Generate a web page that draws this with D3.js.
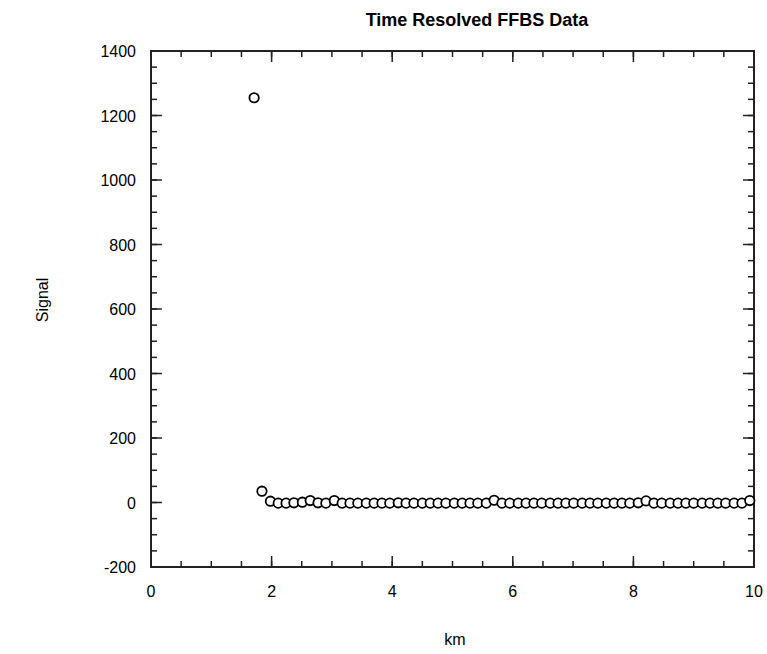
<!DOCTYPE html>
<html><head><meta charset="utf-8">
<script src="https://cdn.jsdelivr.net/npm/d3@7"></script>
<style>body{margin:0;background:#fff}svg{display:block}text{font-family:"Liberation Sans",Arial,sans-serif;fill:#000}</style>
</head><body>
<svg id="c" width="767" height="654"></svg>
<script>
const title = "Time Resolved FFBS Data";
const xLabel = "km";
const yLabel = "Signal";
const xTicks = [0, 2, 4, 6, 8, 10];
const yTicks = [-200, 0, 200, 400, 600, 800, 1000, 1200, 1400];
const kmValues = [1.71,1.84,1.98,2.11,2.24,2.37,2.51,2.64,2.77,2.90,3.04,3.17,3.30,3.43,3.57,3.70,3.83,3.96,4.10,4.23,4.36,4.50,4.63,4.76,4.89,5.03,5.16,5.29,5.42,5.56,5.69,5.82,5.95,6.09,6.22,6.35,6.48,6.62,6.75,6.88,7.01,7.15,7.28,7.41,7.55,7.68,7.81,7.94,8.08,8.21,8.34,8.47,8.61,8.74,8.87,9.00,9.14,9.27,9.40,9.53,9.67,9.80,9.93];
const signalValues = [1255,35,4,-2,-2,-1,1,6,-1,-2,6,-2,-2,-2,-2,-2,-2,-2,-1,-2,-2,-2,-2,-2,-2,-2,-2,-2,-2,-2,7,-2,-2,-2,-2,-2,-2,-2,-2,-2,-2,-2,-2,-2,-2,-2,-2,-2,-1,5,-2,-2,-2,-2,-2,-2,-2,-2,-2,-2,-2,-2,6];

const svg = d3.select("#c");
const L = 151, R = 754, T = 51, B = 567;
const x = d3.scaleLinear().domain([0, 10]).range([L, R]);
const y = d3.scaleLinear().domain([-200, 1400]).range([B, T]);

const minorX = d3.range(0, 10.001, 0.5);
const minorY = d3.range(-200, 1400.001, 50);
const g = svg.append("g").attr("stroke", "#222").attr("stroke-width", 1.5);
minorX.forEach(v => {
  g.append("line").attr("x1", x(v)).attr("x2", x(v)).attr("y1", B).attr("y2", B - 6);
  g.append("line").attr("x1", x(v)).attr("x2", x(v)).attr("y1", T).attr("y2", T + 6);
});
minorY.forEach(v => {
  g.append("line").attr("y1", y(v)).attr("y2", y(v)).attr("x1", L).attr("x2", L + 6);
  g.append("line").attr("y1", y(v)).attr("y2", y(v)).attr("x1", R).attr("x2", R - 6);
});
xTicks.forEach(v => {
  g.append("line").attr("x1", x(v)).attr("x2", x(v)).attr("y1", B).attr("y2", B - 11);
  g.append("line").attr("x1", x(v)).attr("x2", x(v)).attr("y1", T).attr("y2", T + 11);
});
yTicks.forEach(v => {
  g.append("line").attr("y1", y(v)).attr("y2", y(v)).attr("x1", L).attr("x2", L + 11);
  g.append("line").attr("y1", y(v)).attr("y2", y(v)).attr("x1", R).attr("x2", R - 11);
});
svg.append("rect").attr("x", L).attr("y", T).attr("width", R - L).attr("height", B - T)
  .attr("fill", "none").attr("stroke", "#222").attr("stroke-width", 2);

svg.append("g").selectAll("text").data(xTicks).join("text")
  .attr("x", d => x(d)).attr("y", 597).attr("text-anchor", "middle")
  .attr("font-size", 16).text(d => d);
svg.append("g").selectAll("text").data(yTicks).join("text")
  .attr("x", 136).attr("y", d => y(d) + 6).attr("text-anchor", "end")
  .attr("font-size", 16).text(d => d);

svg.append("text").attr("x", 477).attr("y", 26).attr("text-anchor", "middle")
  .attr("font-size", 18).attr("font-weight", "bold").text(title);
svg.append("text").attr("x", 455).attr("y", 645).attr("text-anchor", "middle")
  .attr("font-size", 16).text(xLabel);
svg.append("text").attr("transform", "translate(48,300) rotate(-90)").attr("text-anchor", "middle")
  .attr("font-size", 16).text(yLabel);

svg.append("g").selectAll("circle").data(kmValues).join("circle")
  .attr("cx", d => x(d)).attr("cy", (d, i) => y(signalValues[i])).attr("r", 4.7)
  .attr("fill", "#fff").attr("stroke", "#000").attr("stroke-width", 1.8);
</script>
</body></html>
